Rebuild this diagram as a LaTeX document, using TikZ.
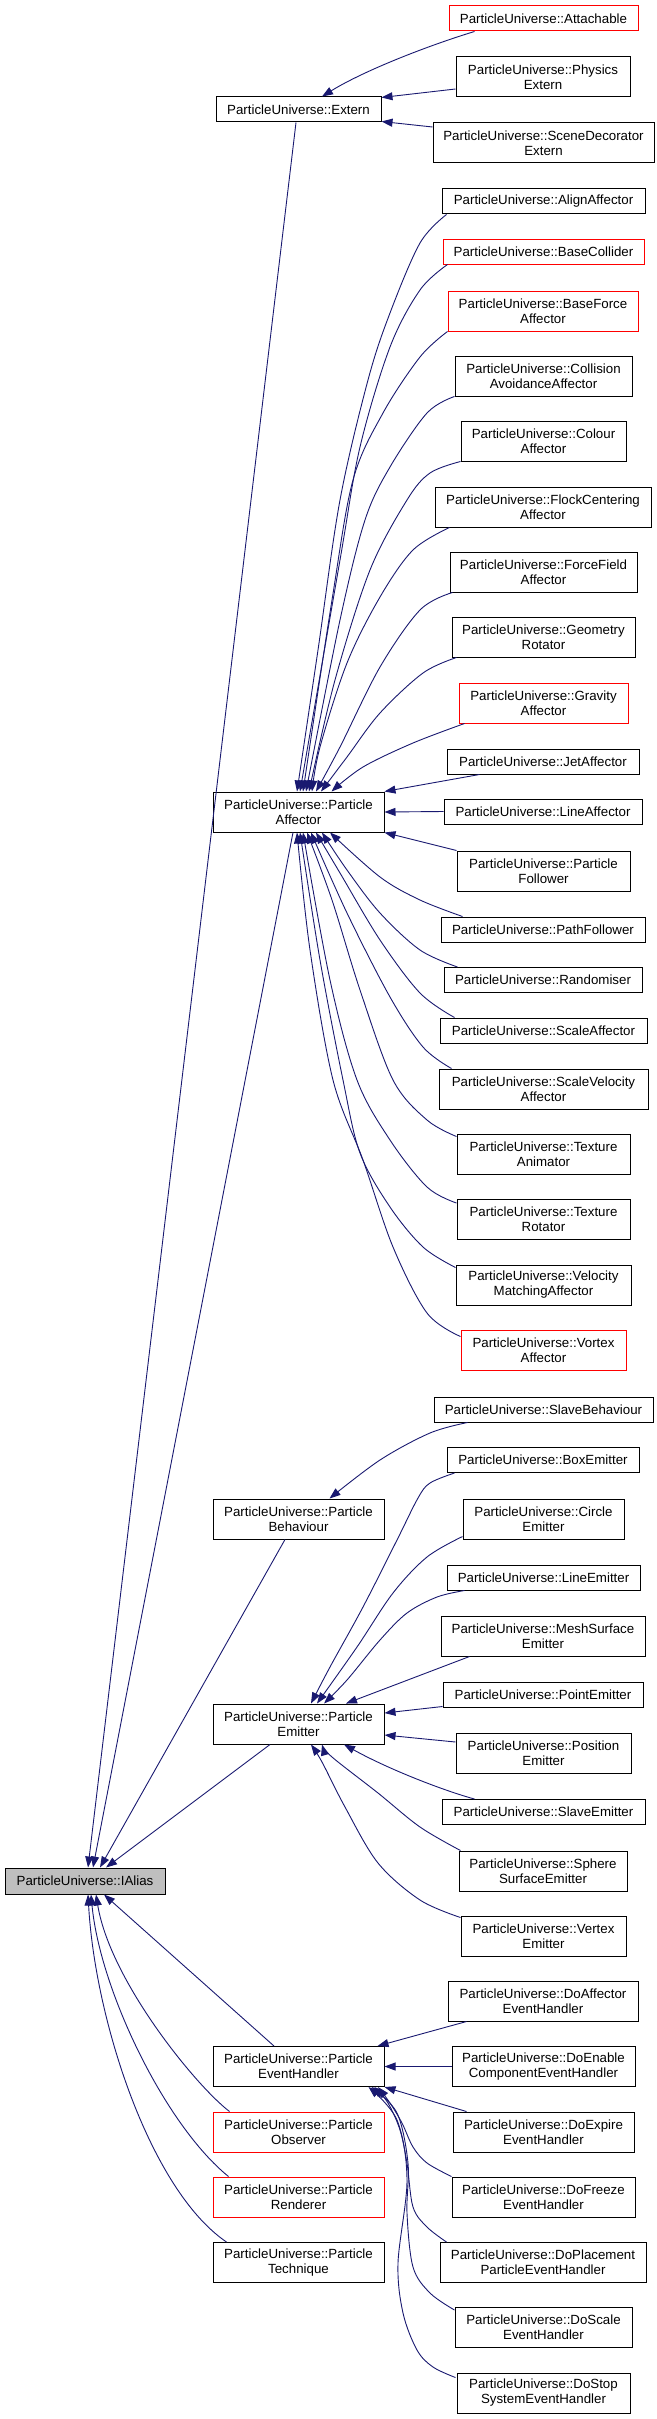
\documentclass[tikz,border=0pt]{standalone}
\usepackage{fontspec}
\newfontfamily\dxf{Liberation Sans}
\usetikzlibrary{arrows.meta,calc}
\definecolor{edgeblue}{HTML}{191970}
\definecolor{aliasgrey}{HTML}{BFBFBF}
\begin{document}
\begin{tikzpicture}[x=1pt,y=-1pt,
  cls/.style={draw=black, line width=1pt, fill=white, inner xsep=0pt, inner ysep=0pt,
     minimum height=25pt, align=center, font=\dxf\fontsize{13.3}{15}\selectfont},
  two/.style={minimum height=40pt},
  redcls/.style={cls, draw=red},
  edge/.style={draw=edgeblue, line width=0.9pt, -{Triangle[length=11pt,width=8pt]}},
  sm/.style={smooth, tension=0.55}]
\useasboundingbox (0,0) rectangle (656,2419);
% right column
\node[redcls, minimum width=189pt] (attach) at (543.5,18.5) {ParticleUniverse::Attachable};
\node[cls, two, minimum width=174pt] (physext) at (543,77) {ParticleUniverse::Physics\\Extern};
\node[cls, two, minimum width=221pt] (scene) at (543.5,143) {ParticleUniverse::SceneDecorator\\Extern};
\node[cls, minimum width=203pt] (align) at (543.5,201.5) {ParticleUniverse::AlignAffector};
\node[redcls, minimum width=201pt] (basecoll) at (543.5,251.5) {ParticleUniverse::BaseCollider};
\node[redcls, two, minimum width=190pt] (baseforce) at (543,311) {ParticleUniverse::BaseForce\\Affector};
\node[cls, two, minimum width=177pt] (collision) at (543.5,376) {ParticleUniverse::Collision\\AvoidanceAffector};
\node[cls, two, minimum width=165pt] (colour) at (543.5,441) {ParticleUniverse::Colour\\Affector};
\node[cls, two, minimum width=216pt] (flock) at (543,507) {ParticleUniverse::FlockCentering\\Affector};
\node[cls, two, minimum width=187pt] (forcefield) at (543.5,572) {ParticleUniverse::ForceField\\Affector};
\node[cls, two, minimum width=183pt] (geometry) at (543.5,637) {ParticleUniverse::Geometry\\Rotator};
\node[redcls, two, minimum width=169pt] (gravity) at (543.5,703) {ParticleUniverse::Gravity\\Affector};
\node[cls, minimum width=192pt] (jet) at (543,761.5) {ParticleUniverse::JetAffector};
\node[cls, minimum width=198pt] (line) at (543,811.5) {ParticleUniverse::LineAffector};
\node[cls, two, minimum width=173pt] (pfollow) at (543.5,871) {ParticleUniverse::Particle\\Follower};
\node[cls, minimum width=204pt] (path) at (543,929.5) {ParticleUniverse::PathFollower};
\node[cls, minimum width=198pt] (random) at (543,980) {ParticleUniverse::Randomiser};
\node[cls, minimum width=207pt] (scale) at (543.5,1030.5) {ParticleUniverse::ScaleAffector};
\node[cls, two, minimum width=209pt] (scalevel) at (543.5,1089) {ParticleUniverse::ScaleVelocity\\Affector};
\node[cls, two, minimum width=173pt] (texanim) at (543.5,1154) {ParticleUniverse::Texture\\Animator};
\node[cls, two, minimum width=173pt] (texrot) at (543.5,1219.5) {ParticleUniverse::Texture\\Rotator};
\node[cls, two, minimum width=175pt] (velmatch) at (543.5,1285) {ParticleUniverse::Velocity\\MatchingAffector};
\node[redcls, two, minimum width=165pt] (vortex) at (543.5,1350) {ParticleUniverse::Vortex\\Affector};
\node[cls, minimum width=219pt] (slavebeh) at (543.5,1409.5) {ParticleUniverse::SlaveBehaviour};
\node[cls, minimum width=192pt] (boxem) at (543,1460) {ParticleUniverse::BoxEmitter};
\node[cls, two, minimum width=161pt] (circle) at (543.5,1519) {ParticleUniverse::Circle\\Emitter};
\node[cls, minimum width=193pt] (lineemit) at (543.5,1577.5) {ParticleUniverse::LineEmitter};
\node[cls, two, minimum width=204pt] (mesh) at (543,1636) {ParticleUniverse::MeshSurface\\Emitter};
\node[cls, minimum width=200pt] (point) at (543,1694.5) {ParticleUniverse::PointEmitter};
\node[cls, two, minimum width=175pt] (position) at (543.5,1753) {ParticleUniverse::Position\\Emitter};
\node[cls, minimum width=203pt] (slaveemit) at (543.5,1812) {ParticleUniverse::SlaveEmitter};
\node[cls, two, minimum width=168pt] (sphere) at (543,1871) {ParticleUniverse::Sphere\\SurfaceEmitter};
\node[cls, two, minimum width=165pt] (vertex) at (543.5,1936) {ParticleUniverse::Vertex\\Emitter};
\node[cls, two, minimum width=190pt] (doaff) at (543,2001) {ParticleUniverse::DoAffector\\EventHandler};
\node[cls, two, minimum width=183pt] (doenable) at (543.5,2066.5) {ParticleUniverse::DoEnable\\ComponentEventHandler};
\node[cls, two, minimum width=181pt] (doexpire) at (543.5,2132) {ParticleUniverse::DoExpire\\EventHandler};
\node[cls, two, minimum width=183pt] (dofreeze) at (543.5,2197) {ParticleUniverse::DoFreeze\\EventHandler};
\node[cls, two, minimum width=206pt] (doplace) at (543,2262.5) {ParticleUniverse::DoPlacement\\ParticleEventHandler};
\node[cls, two, minimum width=177pt] (doscale) at (543.5,2327.5) {ParticleUniverse::DoScale\\EventHandler};
\node[cls, two, minimum width=173pt] (dostop) at (543.5,2393) {ParticleUniverse::DoStop\\SystemEventHandler};
% middle column
\node[cls, minimum width=165pt] (extern) at (298.5,109.5) {ParticleUniverse::Extern};
\node[cls, two, minimum width=171pt] (paff) at (298.5,812) {ParticleUniverse::Particle\\Affector};
\node[cls, two, minimum width=171pt] (pbeh) at (298.5,1519) {ParticleUniverse::Particle\\Behaviour};
\node[cls, two, minimum width=171pt] (pemit) at (298.5,1724) {ParticleUniverse::Particle\\Emitter};
\node[cls, two, minimum width=171pt] (peh) at (298.5,2066.5) {ParticleUniverse::Particle\\EventHandler};
\node[redcls, two, minimum width=171pt] (pobs) at (298.5,2132) {ParticleUniverse::Particle\\Observer};
\node[redcls, two, minimum width=171pt] (prend) at (298.5,2197) {ParticleUniverse::Particle\\Renderer};
\node[cls, two, minimum width=171pt] (ptech) at (298.5,2262.5) {ParticleUniverse::Particle\\Technique};
% left
\node[cls, fill=aliasgrey, minimum width=160pt, minimum height=26pt] (ialias) at (85,1881) {ParticleUniverse::IAlias};

% Extern
\draw[edge] ($(attach.south west)+(26,0)$) .. controls (430,45) and (365,70) .. ($(extern.north)+(23.5,0)$);
\draw[edge] ($(physext.west)+(0,12)$) -- ($(extern.north east)+(0,1)$);
\draw[edge] ($(scene.west)+(0,-16)$) -- ($(extern.south east)+(0,-1)$);
% into IAlias from above
\draw[edge] ($(extern.south)+(-2.5,0)$) -- ($(ialias.north)+(3,0)$);
\draw[edge] ($(paff.south)+(-5.5,0)$) -- ($(ialias.north)+(8,0)$);
\draw[edge] ($(pbeh.south)+(-13.5,0)$) -- ($(ialias.north)+(15,0)$);
\draw[edge] ($(pemit.south)+(-28.5,0)$) -- ($(ialias.north)+(21,0)$);
% into IAlias from below
\draw[edge] ($(peh.north)+(-24.5,0)$) -- ($(ialias.south)+(19,0)$);
\draw[edge] ($(pobs.north west)+(17,0)$) .. controls (195,2085) and (110,1980) .. ($(ialias.south)+(11,0)$);
\draw[edge] ($(prend.north west)+(16,0)$) .. controls (165,2125) and (100,1990) .. ($(ialias.south)+(6,0)$);
\draw[edge] ($(ptech.north west)+(14,0)$) .. controls (150,2190) and (95,2020) .. ($(ialias.south)+(3,0)$);
% Affector, upper
\draw[edge] plot[sm] coordinates {($(align.south west)+(5,0)$) (420,243) (390,313) (368,380) (340,500) (318,650) ($(paff.north)+(-1.5,0)$)};
\draw[edge] plot[sm] coordinates {($(basecoll.south west)+(5,0)$) (420,290) (390,347) (360,447) (340,560) ($(paff.north)+(1.5,0)$)};
\draw[edge] plot[sm] coordinates {(baseforce.south west) (420,357) (383,413) (353,480) (332,600) ($(paff.north)+(4.5,0)$)};
\draw[edge] plot[sm] coordinates {(collision.south west) (427,413) (390,467) (365,520) (340,620) ($(paff.north)+(7.5,0)$)};
\draw[edge] plot[sm] coordinates {(colour.south west) (430,473) (407,500) (370,570) (335,680) ($(paff.north)+(10.5,0)$)};
\draw[edge] plot[sm] coordinates {($(flock.south west)+(15,0)$) (413,550) (380,597) (347,663) (320,747) ($(paff.north)+(13.5,0)$)};
\draw[edge] plot[sm] coordinates {($(forcefield.south west)+(3,0)$) (420,610) (380,667) (340,747) ($(paff.north)+(17.5,0)$)};
\draw[edge] plot[sm] coordinates {($(geometry.south west)+(5,0)$) (423,673) (380,713) (347,757) ($(paff.north)+(22.5,0)$)};
\draw[edge] plot[sm] coordinates {($(gravity.south west)+(6,0)$) (413,743) (363,767) ($(paff.north)+(33,0)$)};
\draw[edge] ($(jet.south west)+(33,0)$) -- (paff.north east);
\draw[edge] (line.west) -- (paff.east);
% Affector, lower
\draw[edge] (pfollow.north west) -- (paff.south east);
\draw[edge] plot[sm] coordinates {($(path.north west)+(22,0)$) (420,900) (380,877) ($(paff.south)+(31.5,0)$)};
\draw[edge] plot[sm] coordinates {($(random.north west)+(14,0)$) (420,950) (380,913) (347,870) ($(paff.south)+(23.5,0)$)};
\draw[edge] plot[sm] coordinates {($(scale.north west)+(15,0)$) (420,993) (380,940) (340,873) ($(paff.south)+(17.5,0)$)};
\draw[edge] plot[sm] coordinates {($(scalevel.north west)+(13,0)$) (423,1047) (390,997) (347,913) ($(paff.south)+(12.5,0)$)};
\draw[edge] plot[sm] coordinates {($(texanim.north west)+(0,3)$) (427,1120) (393,1080) (360,990) (332,900) ($(paff.south)+(8.5,0)$)};
\draw[edge] plot[sm] coordinates {($(texrot.north west)+(0,4)$) (427,1187) (390,1140) (357,1080) (330,980) ($(paff.south)+(4.5,0)$)};
\draw[edge] plot[sm] coordinates {($(velmatch.north west)+(0,3)$) (423,1247) (390,1207) (360,1153) (343,1080) (320,960) ($(paff.south)+(1.5,0)$)};
\draw[edge] plot[sm] coordinates {($(vortex.north west)+(0,7)$) (427,1313) (393,1247) (363,1160) (333,1080) (310,950) ($(paff.south)+(-1.5,0)$)};
% Behaviour
\draw[edge] plot[sm] coordinates {($(slavebeh.south west)+(34,0)$) (430,1433) (380,1460) ($(pbeh.north)+(31,0)$)};
% Emitter, upper
\draw[edge] plot[sm] coordinates {($(boxem.south west)+(8,0)$) (430,1483) (418,1498) (397,1540) (363,1607) (330,1667) ($(pemit.north)+(12.5,0)$)};
\draw[edge] plot[sm] coordinates {($(circle.south west)+(0,-3)$) (427,1557) (393,1593) (357,1647) ($(pemit.north)+(18.5,0)$)};
\draw[edge] plot[sm] coordinates {($(lineemit.south west)+(18,0)$) (437,1597) (407,1613) (380,1640) (347,1680) ($(pemit.north)+(25.5,0)$)};
\draw[edge] ($(mesh.south west)+(29,0)$) -- ($(pemit.north)+(47.5,0)$);
\draw[edge] ($(point.south west)+(0,-1)$) -- ($(pemit.east)+(0,-11)$);
% Emitter, lower
\draw[edge] ($(position.west)+(0,-11)$) -- ($(pemit.east)+(0,11)$);
\draw[edge] ($(slaveemit.north west)+(33,0)$) .. controls (445,1791) and (390,1770) .. ($(pemit.south)+(45.5,0)$);
\draw[edge] plot[sm] coordinates {($(sphere.north west)+(2,0)$) (420,1827) (378,1793) (332,1757) ($(pemit.south)+(23.5,0)$)};
\draw[edge] plot[sm] coordinates {($(vertex.north west)+(0,2)$) (420,1900) (378,1863) (345,1807) (322,1762) ($(pemit.south)+(12.5,0)$)};
% EventHandler
\draw[edge] ($(doaff.south west)+(19,0)$) -- ($(peh.north east)+(-7,0)$);
\draw[edge] (doenable.west) -- (peh.east);
\draw[edge] ($(doexpire.north west)+(14,0)$) -- (peh.south east);
\draw[edge] plot[sm] coordinates {(dofreeze.north west) (427,2163) (413,2147) (402,2123) (390,2103) ($(peh.south)+(79.5,0)$)};
\draw[edge] plot[sm] coordinates {($(doplace.north west)+(7,0)$) (427,2227) (413,2207) (407,2163) (400,2130) (388,2103) ($(peh.south)+(76,0)$)};
\draw[edge] plot[sm] coordinates {($(doscale.north west)+(0,3)$) (430,2293) (413,2267) (407,2213) (408,2163) (397,2113) ($(peh.south)+(73,0)$)};
\draw[edge] plot[sm] coordinates {($(dostop.north west)+(-1,5)$) (433,2367) (417,2350) (403,2313) (398,2263) (407,2180) (397,2120) ($(peh.south)+(70,0)$)};
\end{tikzpicture}
\end{document}
